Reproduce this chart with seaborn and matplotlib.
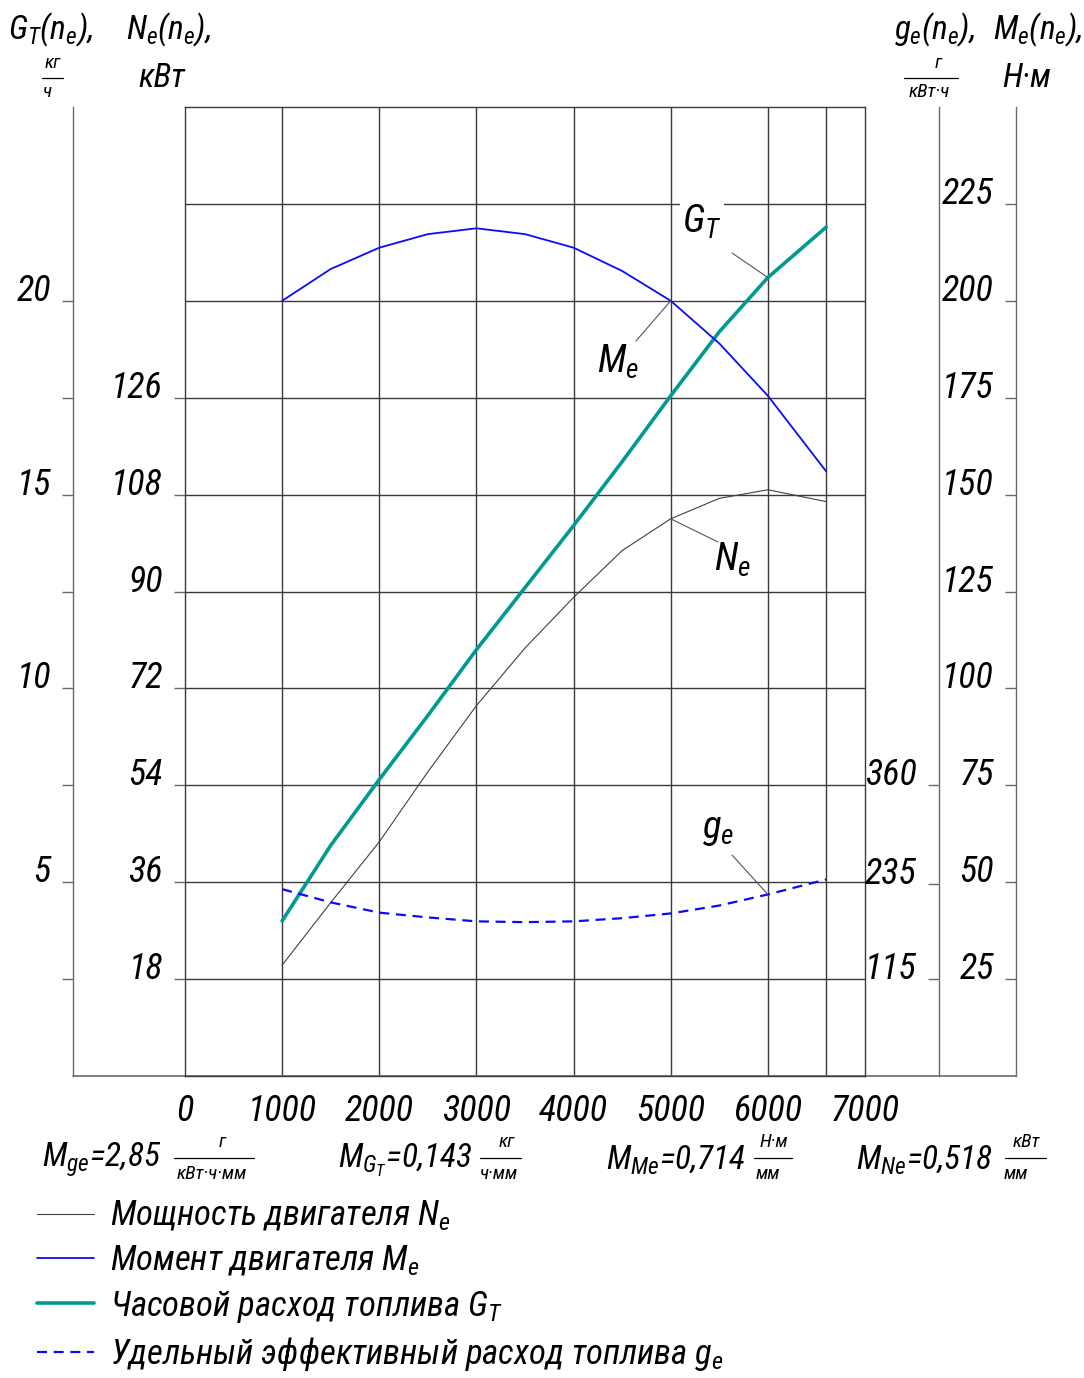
import matplotlib
matplotlib.use("Agg")
import matplotlib.pyplot as plt
import seaborn as sns
from matplotlib import font_manager
from matplotlib.lines import Line2D

# Engine speed points, rpm
rpm = [1000, 1500, 2000, 2500, 3000, 3500, 4000, 4500, 5000, 5500, 6000, 6600]

# Curves
torque_me = [200, 208.2, 213.7, 217.2, 218.7, 217.2, 213.7, 207.7, 200, 189, 175.5, 156]   # N*m
power_ne = [20.6, 32.2, 43.5, 56.5, 68.8, 79.5, 88.9, 97.6, 103.5, 107.3, 108.9, 106.7]    # kW
fuel_gt = [4.0, 5.95, 7.65, 9.3, 11.0, 12.6, 14.2, 15.85, 17.55, 19.2, 20.6, 21.9]         # kg/h
spec_ge = [228.7, 212, 199, 193, 188, 187, 188, 192, 198, 208, 222, 241]                    # g/kWh

# Axis ticks
rpm_ticks = [0, 1000, 2000, 3000, 4000, 5000, 6000, 7000]
rpm_grid = [1000, 2000, 3000, 4000, 5000, 6000, 6600]
ne_ticks = [18, 36, 54, 72, 90, 108, 126]
ne_grid = [18, 36, 54, 72, 90, 108, 126, 144, 162]
gt_ticks = [2.5, 5, 7.5, 10, 12.5, 15, 17.5, 20]
gt_labels = ["", "5", "", "10", "", "15", "", "20"]
ge_ticks = [115, 235, 360]
me_ticks = [25, 50, 75, 100, 125, 150, 175, 200, 225]

names = {f.name for f in font_manager.fontManager.ttflist}
fam = "DejaVu Sans"
for cand in ["Liberation Sans Narrow", "Roboto Condensed", "Open Sans Condensed", "Liberation Sans"]:
    if cand in names:
        fam = cand
        break

sns.set_style("white")
plt.rcParams["font.family"] = [fam, "DejaVu Sans"]
plt.rcParams["font.style"] = "italic"
plt.rcParams["text.color"] = "black"
plt.rcParams["mathtext.fontset"] = "custom"
plt.rcParams["mathtext.it"] = fam + ":italic"
plt.rcParams["mathtext.rm"] = fam + ":italic"
plt.rcParams["mathtext.sf"] = fam + ":italic"

W, H = 1084, 1378
fig = plt.figure(figsize=(W / 100, H / 100), dpi=100)
ax = fig.add_axes([185 / W, 1 - 1076 / H, 680 / W, 969 / H])


def fx(x):
    return x / W


def fy(y):
    return 1 - y / H


def ftext(x, y, s, size=26, ha="center", va="center", **kw):
    fig.text(fx(x), fy(y), s, fontsize=size, ha=ha, va=va, color="black", **kw)


def fline(x0, x1, y, lw=0.9):
    fig.add_artist(Line2D([fx(x0), fx(x1)], [fy(y), fy(y)], transform=fig.transFigure,
                          color="black", lw=lw))


grid_col = "#3a3a3a"
spine_col = "#6a6a6a"
tick_fs = 26
title_fs = 24
small_fs = 14

# main axes: speed + power
ax.set_xlim(0, 7000)
ax.set_ylim(0, 180)
ax.hlines(ne_grid, 0, 7000, color=grid_col, lw=1.0, zorder=1)
ax.vlines(rpm_grid, 0, 180, color=grid_col, lw=1.0, zorder=1)
for s in ["left", "top", "right", "bottom"]:
    ax.spines[s].set_color(grid_col)
    ax.spines[s].set_linewidth(1.0)
ax.set_xticks(rpm_ticks)
ax.set_xticklabels([str(v) for v in rpm_ticks])
ax.tick_params(axis="x", length=0, pad=12, labelsize=tick_fs, labelcolor="black")
ax.set_yticks(ne_ticks)
ax.set_yticklabels([str(v) for v in ne_ticks])
ax.tick_params(axis="y", left=True, length=8, width=1, color=spine_col, pad=8,
               labelsize=tick_fs, labelcolor="black")
for lbl in ax.get_yticklabels():
    lbl.set_va("baseline")

# twin axes for other scales
ax_gt = ax.twinx()
ax_ge = ax.twinx()
ax_me = ax.twinx()
ax_gt.set_ylim(0, 25)
ax_ge.set_ylim(-7.5, 1217.5)
ax_me.set_ylim(0, 250)

for a, pos in [(ax_gt, -112 / 680), (ax_ge, 754 / 680), (ax_me, 831 / 680)]:
    for s in ["top", "right", "bottom"]:
        a.spines[s].set_visible(False)
    a.spines["left"].set_visible(True)
    a.spines["left"].set_position(("axes", pos))
    a.spines["left"].set_color(spine_col)
    a.spines["left"].set_linewidth(1.0)
    a.yaxis.set_ticks_position("left")
    a.yaxis.set_label_position("left")

ax_gt.set_yticks(gt_ticks)
ax_gt.set_yticklabels(gt_labels)
ax_ge.set_yticks(ge_ticks)
ax_ge.set_yticklabels([str(v) for v in ge_ticks])
ax_me.set_yticks(me_ticks)
ax_me.set_yticklabels([str(v) for v in me_ticks])
for a in [ax_gt, ax_ge, ax_me]:
    a.tick_params(axis="y", length=8, width=1, color=spine_col, pad=8,
                  labelsize=tick_fs, labelcolor="black")
    for lbl in a.get_yticklabels():
        lbl.set_va("baseline")

# full-width bottom line
ax.plot([-112 / 680, 831 / 680], [0, 0], transform=ax.transAxes, color=spine_col,
        lw=1.2, clip_on=False)

# curves
sns.lineplot(x=rpm, y=power_ne, ax=ax, color="#404040", lw=0.8,
             label="Мощность двигателя $N_e$", zorder=3)
sns.lineplot(x=rpm, y=torque_me, ax=ax_me, color="#0a0aff", lw=1.3,
             label="Момент двигателя $M_e$", zorder=3)
sns.lineplot(x=rpm, y=fuel_gt, ax=ax_gt, color="#009a92", lw=2.6,
             label="Часовой расход топлива $G_T$", zorder=3)
sns.lineplot(x=rpm, y=spec_ge, ax=ax_ge, color="#0a0aff", lw=1.6,
             label="Удельный эффективный расход топлива $g_e$", zorder=3)
ax_ge.lines[-1].set_dashes([4.5, 3])

handles, labels = [], []
for a in [ax, ax_me, ax_gt, ax_ge]:
    h, l = a.get_legend_handles_labels()
    handles += h
    labels += l
    if a.get_legend() is not None:
        a.get_legend().remove()
ax.set_xlabel("")
for a in [ax, ax_gt, ax_ge, ax_me]:
    a.set_ylabel("")

leg = fig.legend(handles, labels, loc="upper left", bbox_to_anchor=(fx(37), fy(1199)),
                 frameon=False, fontsize=25, handlelength=1.65, handletextpad=0.44,
                 labelspacing=0.3, borderaxespad=0, borderpad=0)
for t in leg.get_texts():
    t.set_color("black")

# curve labels with leader lines
lead = dict(arrowstyle="-", color="#555555", lw=0.8, shrinkA=0, shrinkB=0)
ax_gt.annotate("", xy=(rpm[10], fuel_gt[10]), xytext=(732, H - 253),
               textcoords="figure pixels", arrowprops=lead)
ax_me.annotate("", xy=(rpm[8], torque_me[8]), xytext=(636, H - 341),
               textcoords="figure pixels", arrowprops=lead)
ax.annotate("", xy=(rpm[8], power_ne[8]), xytext=(718, H - 542),
            textcoords="figure pixels", arrowprops=lead)
ax_ge.annotate("", xy=(rpm[10], spec_ge[10]), xytext=(732, H - 855),
               textcoords="figure pixels", arrowprops=lead)
ftext(702, 222, "$G_T$", size=28, bbox=dict(facecolor="white", edgecolor="none", pad=2))
ftext(618, 362, "$M_e$", size=28)
ftext(732, 560, "$N_e$", size=28)
ftext(718, 830, "$g_e$", size=28)

# axis titles
ftext(8, 30, "$G_T(n_e),$", size=title_fs, ha="left")
ftext(53, 63, "кг", size=small_fs)
fline(42, 63, 78)
ftext(47, 92, "ч", size=small_fs)
ftext(126, 30, "$N_e(n_e),$", size=title_fs, ha="left")
ftext(162, 78, "кВт", size=title_fs)
ftext(894, 30, "$g_e(n_e),$", size=title_fs, ha="left")
ftext(938, 63, "г", size=small_fs)
fline(904, 958, 78)
ftext(929, 92, "кВт·ч", size=small_fs)
ftext(993, 30, "$M_e(n_e),$", size=title_fs, ha="left")
ftext(1027, 78, "Н·м", size=title_fs)

# scale factors
ftext(42, 1160, "$M_{ge}$=2,85", size=title_fs, ha="left")
ftext(222, 1142, "г", size=small_fs)
fline(174, 254, 1158)
ftext(212, 1174, "кВт·ч·мм", size=small_fs)
ftext(338, 1160, "$M_{G_T}$=0,143", size=title_fs, ha="left")
ftext(507, 1142, "кг", size=small_fs)
fline(480, 521, 1158)
ftext(499, 1174, "ч·мм", size=small_fs)
ftext(606, 1160, "$M_{Me}$=0,714", size=title_fs, ha="left")
ftext(774, 1142, "Н·м", size=small_fs)
fline(754, 792, 1158)
ftext(768, 1174, "мм", size=small_fs)
ftext(856, 1160, "$M_{Ne}$=0,518", size=title_fs, ha="left")
ftext(1026, 1142, "кВт", size=small_fs)
fline(1005, 1046, 1158)
ftext(1016, 1174, "мм", size=small_fs)

fig.savefig("out.png", dpi=100, facecolor="white")
